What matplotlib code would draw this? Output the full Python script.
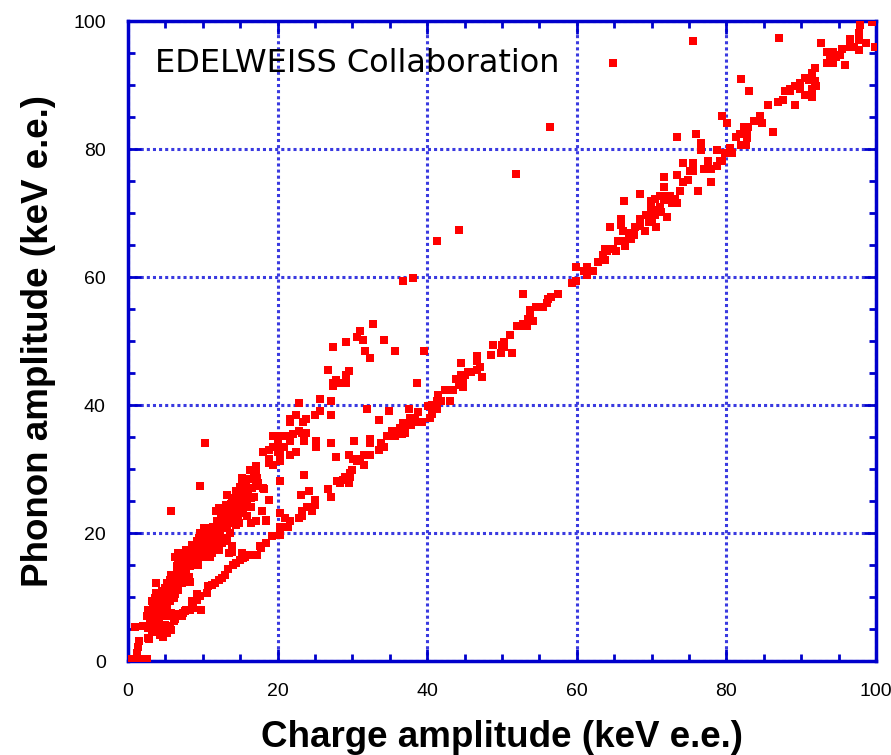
import numpy as np
import matplotlib
matplotlib.use('Agg')
import matplotlib.pyplot as plt
from matplotlib.ticker import MultipleLocator

# ---- data: (charge, phonon) in keV e.e. ----
origin_pts = [(0.5, 0.3), (1.0, 0.3), (1.5, 0.3), (2.0, 0.3), (2.6, 0.3), (1.2, 1.2), (1.4, 2.2)]

low_pts = [
    (0.9, 5.3), (1.5, 3.1), (2.8, 3.5), (3.2, 5.3), (2.5, 7.0), (2.9, 7.8), (3.4, 8.5), (3.2, 9.3),
    (3.6, 9.8), (3.4, 6.2), (4.1, 6.2), (4.3, 7.0), (4.5, 8.0), (4.3, 9.1), (4.7, 9.8), (5.2, 10.6),
    (4.5, 10.9), (5.6, 11.4), (6.1, 12.2), (5.6, 12.7), (6.3, 13.2), (6.5, 14.0), (7.0, 14.8),
    (6.7, 15.8), (6.3, 16.3), (6.7, 16.9), (7.4, 16.6), (7.8, 17.4), (8.5, 18.1), (9.0, 17.7),
    (9.4, 18.7), (10.1, 17.9), (10.5, 17.1), (9.9, 16.3), (9.0, 15.8), (8.3, 14.8), (7.8, 14.0),
    (7.4, 13.2), (7.2, 12.2), (6.7, 11.1), (6.3, 10.4), (5.6, 9.6), (5.2, 8.5), (4.7, 7.8),
    (5.2, 7.0), (6.1, 6.2), (4.5, 4.6), (4.7, 5.4), (3.6, 5.0), (3.2, 4.6), (2.7, 5.2), (3.8, 12.2),
    (6.3, 7.2), (7.0, 7.4), (7.6, 7.8), (8.3, 8.0), (8.7, 8.3), (8.5, 9.3), (9.2, 9.5), (9.2, 10.4),
    (9.6, 10.1), (5.2, 7.5), (5.8, 7.5), (6.8, 7.3),
    (8.1, 13.2), (8.3, 12.4), (7.0, 12.2), (6.1, 12.4), (5.2, 12.2), (7.6, 13.5), (7.2, 14.0),
    (6.5, 13.7), (5.8, 13.5), (7.8, 15.3), (7.2, 15.0), (8.5, 16.9), (9.2, 16.6), (8.3, 15.8),
    (7.6, 16.1), (10.1, 20.8), (10.7, 20.8), (11.4, 21.0), (10.3, 19.5), (9.6, 20.0), (10.5, 18.4),
    (11.6, 17.4), (9.8, 17.4), (9.0, 17.9), (7.0, 16.3), (6.5, 14.8), (4.9, 11.4), (5.8, 11.4),
    (5.4, 10.6), (4.7, 10.1), (4.1, 9.6), (3.6, 8.5), (4.3, 8.0), (4.9, 8.5), (5.6, 9.3), (6.1, 9.8),
    (3.8, 7.2), (2.9, 5.4), (2.7, 8.0), (3.8, 10.6), (2.0, 5.4), (2.7, 3.6), (9.8, 8.0),
    (5.5, 4.9), (4.3, 4.1),
    (3.0, 6.5), (3.9, 7.9), (4.0, 8.8), (4.6, 9.0), (5.0, 9.9), (5.3, 11.9), (5.9, 10.8), (6.0, 12.9),
    (6.6, 12.7), (6.9, 13.4), (7.3, 14.5), (7.7, 14.6), (7.9, 16.6), (8.0, 15.7), (8.8, 16.1),
    (8.8, 17.3), (9.5, 19.2), (10.0, 18.8), (10.8, 19.0), (11.3, 19.2), (11.6, 20.0), (12.0, 21.1),
    (12.8, 21.0), (12.9, 22.3), (12.4, 22.8), (13.1, 24.4), (13.8, 24.6), (14.2, 23.6), (14.8, 24.7),
    (14.5, 26.6), (15.0, 27.2), (15.8, 27.8), (16.0, 28.5), (16.6, 27.0), (16.4, 24.0), (14.9, 21.5),
    (12.9, 18.8), (12.2, 17.4), (10.7, 16.5), (8.0, 13.0), (9.4, 15.0), (10.4, 16.2),
    (8.5, 9.2), (7.8, 8.0), (7.2, 7.0), (7.4, 7.5), (6.3, 6.5), (5.6, 5.4), (4.9, 5.7), (4.3, 5.4),
    (5.2, 4.4), (4.7, 3.8), (5.8, 4.9),
    (17.2, 16.6), (16.5, 16.6), (15.4, 16.1), (15.0, 15.8), (14.5, 15.3), (14.1, 15.0), (13.4, 14.3),
    (13.0, 13.5), (12.5, 13.0), (12.1, 12.7), (11.6, 12.2), (11.2, 11.9), (10.7, 11.7), (10.5, 10.6),
    (17.8, 17.7), (18.5, 18.4), (17.6, 17.9), (19.2, 19.5), (20.3, 19.7), (20.3, 21.0), (21.4, 21.0),
    (21.7, 21.8), (18.5, 21.8), (16.8, 25.6),
    (17.1, 30.5), (16.5, 29.8), (17.1, 29.4), (17.1, 28.3), (17.4, 27.8), (15.2, 28.5), (17.4, 27.3),
    (15.6, 26.9), (13.2, 26.0), (14.4, 26.0), (15.4, 26.0), (16.3, 25.7), (13.9, 25.2), (14.7, 25.2),
    (15.6, 25.2), (14.1, 24.4), (13.6, 23.9), (15.0, 24.2), (15.9, 24.3), (12.1, 23.9), (11.8, 23.5),
    (13.2, 23.1), (14.5, 23.1), (15.4, 23.5), (15.9, 22.7), (12.7, 22.6), (13.6, 22.3), (14.7, 22.3),
    (12.5, 21.6), (13.6, 21.6), (14.5, 21.3), (17.1, 21.8), (16.5, 21.6), (11.8, 21.0), (13.2, 20.8),
    (11.4, 20.3), (12.3, 20.0), (13.6, 20.0), (10.1, 19.7), (11.0, 19.7), (12.1, 19.2), (13.3, 19.2),
    (10.5, 18.7), (11.6, 18.7), (12.5, 18.4), (9.2, 18.7), (8.7, 18.0), (9.9, 18.0), (11.0, 17.9),
    (11.8, 17.7), (13.9, 17.9), (13.9, 17.1), (13.5, 16.9), (9.4, 17.4), (10.3, 17.1), (11.2, 16.9),
    (9.2, 16.5), (8.3, 16.3), (11.0, 16.3), (6.4, 16.3), (15.6, 16.3), (15.2, 16.9), (16.3, 16.6),
    (10.3, 34.0), (9.6, 27.3), (5.7, 23.5),
    (12.3, 23.9), (13.0, 23.6), (14.1, 25.5), (15.4, 25.5), (16.1, 26.0), (15.6, 26.8), (15.2, 28.6),
    (16.3, 29.9), (17.0, 29.6), (16.8, 29.1), (17.2, 28.6), (17.2, 27.3), (18.1, 27.0), (16.5, 25.5),
    (15.0, 23.1), (15.9, 22.6), (14.3, 22.1), (13.6, 22.1), (13.2, 22.1), (11.9, 21.8),
]

mid_pts = [
    (19.4, 35.2), (20.3, 35.2), (21.0, 35.2), (22.1, 35.4), (22.8, 35.9), (23.2, 35.6), (23.8, 35.6),
    (21.7, 35.2), (20.1, 34.6), (20.3, 33.5), (20.8, 33.5), (19.4, 33.5), (18.8, 33.0), (18.1, 32.7),
    (20.1, 32.7), (20.3, 32.2), (18.9, 31.5), (18.9, 30.9), (19.4, 30.6), (20.3, 31.2), (22.4, 32.7),
    (21.7, 32.2), (18.2, 26.9), (18.8, 25.2), (17.9, 23.5), (18.5, 22.1), (20.3, 28.1), (23.5, 29.0),
    (25.7, 41.0), (27.1, 40.6), (22.8, 40.3), (25.7, 39.0), (27.1, 38.5), (22.4, 38.5), (23.8, 37.8),
    (23.4, 37.3), (21.7, 37.8), (21.7, 37.3), (25.0, 38.5), (32.0, 39.3), (33.6, 37.7), (34.9, 39.0),
    (36.4, 36.4), (35.3, 36.0), (35.7, 35.1), (34.6, 35.2), (36.1, 35.5), (32.4, 34.7), (32.4, 34.0),
    (33.8, 34.0), (34.2, 33.5), (33.5, 33.0), (30.2, 34.3), (27.1, 34.0), (25.2, 34.3), (25.2, 33.5),
    (23.5, 34.3), (21.7, 34.3), (32.0, 32.2), (32.4, 32.2), (31.6, 32.2), (29.5, 32.2), (30.1, 31.6),
    (30.6, 31.2), (31.0, 31.5), (31.5, 30.6), (27.8, 31.8), (29.9, 29.9), (29.7, 29.4), (29.7, 28.8),
    (29.0, 28.8), (28.8, 28.3), (29.5, 27.8), (27.9, 28.1), (28.3, 27.8), (26.7, 26.9), (27.1, 25.6),
    (25.0, 25.2), (25.0, 24.4), (24.2, 26.5), (23.1, 26.0), (24.6, 23.5), (23.9, 24.1), (23.2, 23.5),
    (23.2, 22.7), (22.8, 22.3), (21.0, 22.3), (20.3, 23.1),
    (32.7, 52.7), (31.0, 51.5), (30.6, 50.6), (31.4, 50.2), (29.2, 49.8), (27.4, 49.0), (31.7, 48.5),
    (34.2, 50.2), (35.7, 48.5), (32.4, 47.3), (26.7, 45.5), (29.5, 45.3), (29.2, 44.7), (27.8, 43.9),
    (27.4, 43.5), (27.4, 43.0), (28.3, 43.5), (29.1, 43.5), (38.7, 43.5),
    (37.5, 39.3), (38.8, 38.9), (37.7, 38.0), (38.4, 37.7), (38.8, 37.4), (39.3, 37.3), (36.8, 37.2),
    (37.3, 36.9), (37.9, 36.9), (37.0, 35.6), (36.6, 35.4), (40.4, 38.0), (40.6, 38.6),
    (36.7, 59.3), (38.1, 59.8), (39.6, 48.5),
]

high_pts = [
    (44.2, 67.3), (41.3, 65.6), (59.9, 61.5), (59.3, 59.1), (59.9, 59.3), (52.8, 57.3), (57.5, 57.3),
    (56.6, 56.9), (56.2, 56.5), (56.0, 56.0), (55.5, 55.3), (54.6, 55.3), (53.7, 54.9), (53.7, 54.1),
    (53.5, 53.5), (54.1, 53.1), (52.8, 52.7), (52.0, 52.3), (52.8, 52.3), (53.3, 52.3), (51.1, 51.0),
    (48.8, 49.3), (50.0, 49.3), (50.3, 49.8), (50.3, 49.0), (49.8, 48.1), (51.3, 48.1), (48.5, 47.8),
    (46.6, 47.6), (46.6, 46.8), (47.1, 46.0), (46.6, 45.5), (45.9, 45.2), (45.5, 45.2), (44.5, 46.5),
    (44.5, 44.7), (45.1, 44.7), (43.9, 44.0), (44.8, 44.0), (47.3, 44.3), (44.3, 43.1), (44.8, 42.8),
    (43.0, 42.3), (42.4, 42.3), (43.4, 42.3), (41.4, 41.5), (41.3, 40.6), (41.9, 40.6), (43.0, 40.6),
    (40.6, 40.0), (40.8, 39.5), (41.3, 39.3), (40.1, 39.8),
    (73.4, 81.8), (75.9, 82.3), (76.6, 81.0), (76.6, 79.8), (78.7, 79.8), (77.6, 78.1), (77.6, 77.7),
    (79.1, 78.1), (78.7, 77.3), (78.0, 76.8), (77.0, 76.8), (74.2, 77.8), (75.5, 77.8), (75.1, 76.5),
    (75.5, 76.5), (73.4, 76.0), (74.8, 75.2), (74.2, 74.8), (73.8, 73.5), (76.2, 73.5), (78.0, 74.8),
    (71.6, 75.6), (71.6, 74.0), (68.4, 73.0), (66.3, 71.8),
    (71.1, 72.7), (71.8, 72.7), (72.4, 72.6), (73.1, 72.2), (73.4, 71.6), (72.7, 71.6), (71.6, 72.1),
    (70.5, 72.2), (69.9, 71.8), (69.9, 71.0), (71.1, 71.0), (70.6, 70.5), (71.3, 70.2), (69.9, 69.7),
    (69.3, 69.7), (70.5, 69.7), (72.0, 69.3), (70.1, 68.6), (69.6, 68.6), (70.6, 67.8), (68.4, 69.0),
    (68.4, 67.9), (67.8, 67.8), (69.1, 67.2), (65.9, 69.0), (65.9, 68.1), (64.4, 67.8), (66.2, 67.2),
    (67.0, 66.9), (67.7, 66.5), (67.3, 66.0), (66.2, 65.6), (65.5, 65.6), (66.5, 64.8), (63.8, 64.3),
    (64.8, 64.3), (65.2, 64.0), (64.1, 64.0), (63.5, 63.5), (63.8, 62.7), (62.9, 62.3), (61.3, 61.5),
    (61.0, 61.0), (62.2, 61.0), (61.3, 60.3),
    (75.5, 96.8), (64.8, 93.5), (56.4, 83.5), (51.9, 76.1),
    (99.4, 99.8), (97.9, 99.3), (87.0, 97.3), (92.6, 96.5), (96.5, 97.2), (96.5, 96.0), (97.7, 98.1),
    (97.7, 97.1), (97.7, 95.5), (98.6, 96.5), (99.8, 96.0), (97.1, 96.0), (93.4, 95.2), (94.3, 95.2),
    (95.2, 94.7), (95.5, 95.6), (93.9, 94.0), (93.4, 93.4), (94.3, 93.4), (94.7, 94.3), (95.8, 93.1),
    (91.9, 92.7), (91.5, 91.8), (90.5, 91.1), (91.0, 90.8), (91.8, 90.6), (89.8, 90.3), (89.2, 89.8),
    (88.5, 89.4), (87.8, 89.0), (88.5, 89.0), (89.8, 89.4), (91.4, 89.4), (92.0, 89.8), (90.5, 88.5),
    (91.5, 88.1), (82.0, 91.0), (83.0, 89.0), (86.9, 87.3), (87.6, 87.7), (85.6, 86.8), (89.2, 86.8),
    (84.5, 85.2), (83.7, 84.3), (84.8, 84.0), (79.4, 85.2), (80.1, 84.0), (86.2, 82.7), (82.4, 83.5),
    (82.9, 83.5), (81.3, 81.9), (81.8, 82.4), (82.7, 82.7), (82.7, 81.7), (82.0, 80.6), (82.6, 80.6),
    (80.5, 80.1), (79.8, 79.4), (80.7, 79.4), (79.4, 78.1),
]

tick_vals = [0, 20, 40, 60, 80, 100]

pts = np.array(origin_pts + low_pts + mid_pts + high_pts)
charge, phonon = pts[:, 0], pts[:, 1]

blue = '#0000cc'

fig = plt.figure(figsize=(8.91, 7.55), dpi=100)
ax = fig.add_axes([128 / 891, 1 - 661 / 755, 748 / 891, 640 / 755])

ax.scatter(charge, phonon, marker='s', s=30, c='#ff0000', linewidths=0, zorder=3)

ax.set_xlim(0, 100)
ax.set_ylim(0, 100)
ax.set_xticks(tick_vals)
ax.set_yticks(tick_vals)
ax.xaxis.set_minor_locator(MultipleLocator(5))
ax.yaxis.set_minor_locator(MultipleLocator(5))
ax.grid(True, which='major', color='#3a3ae0', linestyle=(0, (1, 1)), linewidth=2.2, zorder=1)
ax.set_axisbelow(True)

for sp in ax.spines.values():
    sp.set_color(blue)
    sp.set_linewidth(2.5)
ax.tick_params(which='both', direction='in', top=True, right=True, color=blue, width=2,
               labelsize=14, pad=16)
ax.tick_params(which='major', length=9)
ax.tick_params(which='minor', length=5)
for lab in ax.get_xticklabels() + ax.get_yticklabels():
    lab.set_family('Liberation Sans')

ax.set_xlabel('Charge amplitude (keV e.e.)', fontsize=26.5, family='Liberation Sans',
              weight='bold', labelpad=14)
ax.set_ylabel('Phonon amplitude (keV e.e.)', fontsize=26.5, family='Liberation Sans',
              weight='bold', labelpad=12)
ax.text(0.036, 0.958, 'EDELWEISS Collaboration', transform=ax.transAxes, fontsize=23,
        family='DejaVu Sans', va='top', ha='left', zorder=4)

fig.savefig('out.png', dpi=100)
